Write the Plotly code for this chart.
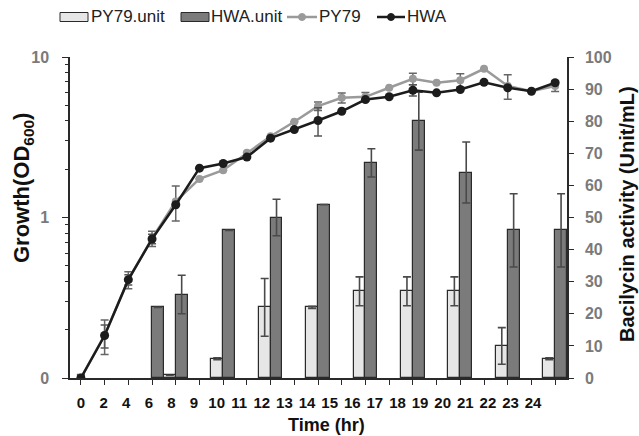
import plotly.graph_objects as go

# ---------------- data ----------------
time_labels = ["0", "2", "4", "6", "8", "9", "10", "11", "12", "13", "14",
               "15", "16", "17", "18", "19", "20", "21", "22", "23", "24"]

py79_od = [0.10, 0.185, 0.41, 0.74, 1.26, 1.74, 1.97, 2.53, 3.21, 3.95, 4.94,
           5.57, 5.65, 6.43, 7.31, 6.91, 7.17, 8.44, 6.6, 6.12, 6.6]
py79_od_err = [0.005, 0.045, 0.05, 0.08, 0.31, 0, 0, 0, 0, 0, 0.3,
               0.4, 0.35, 0, 0.6, 0, 0.7, 0, 1.15, 0, 0.5]

hwa_od = [0.10, 0.184, 0.41, 0.735, 1.2, 2.03, 2.17, 2.38, 3.12, 3.53, 4.02,
          4.59, 5.43, 5.65, 6.21, 5.98, 6.27, 6.96, 6.43, 6.12, 6.91]
hwa_od_err = [0.004, 0.03, 0.03, 0.05, 0, 0, 0, 0, 0, 0, 0.8,
              0, 0, 0, 0.5, 0, 0, 0, 0, 0, 0]

py79_unit = [None, None, None, None, 0.8, None, 6, None, 22, None, 22,
             None, 27, None, 27, None, 27, None, 10, None, 6]
py79_unit_err = [0, 0, 0, 0, 0, 0, 0.3, 0, 9, 0, 0.3,
                 0, 4.5, 0, 4.5, 0, 4.5, 0, 5.7, 0, 0.3]

hwa_unit = [None, None, None, 22, 26, None, 46, None, 50, None, 54,
            None, 67, None, 80, None, 64, None, 46, None, 46]
hwa_unit_err = [0, 0, 0, 0, 6, 0, 0, 0, 5.7, 0, 0,
                0, 4.4, 0, 9, 0, 9.5, 0, 11.4, 0, 11.4]

od_major = [0.1, 1, 10]
od_major_text = ["0", "1", "10"]
od_minor = [0.2, 0.3, 0.4, 0.5, 0.6, 0.7, 0.8, 0.9, 2, 3, 4, 5, 6, 7, 8, 9]

idx = list(range(len(time_labels)))

# ---------------- style ----------------
FONT = "Arial, Liberation Sans, sans-serif"
AX = "#2a2a2a"
GRAY_TXT = "#7a7a7a"
LIGHT = "#e6e6e6"
DARK = "#7b7b7b"
PY_COL = "#9a9a9a"
HWA_COL = "#1c1c1c"
ERR = "#4a4a4a"

W, H = 639, 436
L, R, T, B = 70, 72, 57, 58
PW, PH = W - L - R, H - T - B


def px(xp):
    return (xp - L) / PW


def py(yp):
    return (H - B - yp) / PH


fig = go.Figure()

fig.add_trace(go.Bar(
    x=idx, y=py79_unit, name="PY79.unit", xaxis="x", yaxis="y",
    marker=dict(color=LIGHT, line=dict(color=AX, width=1.2)),
    error_y=dict(type="data", array=py79_unit_err, color=ERR, thickness=1.6, width=4),
    showlegend=False))
fig.add_trace(go.Bar(
    x=idx, y=hwa_unit, name="HWA.unit", xaxis="x", yaxis="y",
    marker=dict(color=DARK, line=dict(color=AX, width=1.2)),
    error_y=dict(type="data", array=hwa_unit_err, color=ERR, thickness=1.6, width=4),
    showlegend=False))
fig.add_trace(go.Scatter(
    x=idx, y=py79_od, name="PY79", xaxis="x", yaxis="y2", mode="lines+markers",
    line=dict(color=PY_COL, width=2.5), marker=dict(color=PY_COL, size=8),
    error_y=dict(type="data", array=py79_od_err, color="#666", thickness=1.5, width=4),
    showlegend=False))
fig.add_trace(go.Scatter(
    x=idx, y=hwa_od, name="HWA", xaxis="x", yaxis="y2", mode="lines+markers",
    line=dict(color=HWA_COL, width=2.5), marker=dict(color=HWA_COL, size=9),
    error_y=dict(type="data", array=hwa_od_err, color="#555", thickness=1.5, width=4),
    showlegend=False))
# carrier traces for the label-only axes
fig.add_trace(go.Scatter(x=idx, y=[None] * len(idx), xaxis="x2", yaxis="y",
                         mode="lines", showlegend=False, hoverinfo="skip"))
fig.add_trace(go.Scatter(x=idx, y=[None] * len(idx), xaxis="x", yaxis="y3",
                         mode="lines", showlegend=False, hoverinfo="skip"))

fig.update_layout(
    width=W, height=H,
    margin=dict(l=L, r=R, t=T, b=B),
    paper_bgcolor="white", plot_bgcolor="white",
    barmode="group", bargap=0, bargroupgap=0,
    font=dict(family=FONT, color="#111"),
    xaxis=dict(range=[-0.46, 20.5], tickvals=idx, showticklabels=False,
               ticks="outside", ticklen=5, tickwidth=1.3, tickcolor=AX,
               showline=True, linecolor=AX, linewidth=1.5,
               showgrid=False, zeroline=False),
    xaxis2=dict(overlaying="x", anchor="y", side="bottom", range=[-0.487, 21.5],
                tickmode="array", tickvals=idx, ticktext=time_labels, ticks="",
                showline=False, showgrid=False, zeroline=False, ticklabelstandoff=14,
                tickfont=dict(family=FONT, size=15, color="#111", weight="bold")),
    yaxis=dict(side="right", range=[0, 100], tick0=0, dtick=10, anchor="x",
               ticks="outside", ticklen=5, tickwidth=1.3, tickcolor=AX,
               showline=True, linecolor=AX, linewidth=1.5,
               showgrid=False, zeroline=False, ticklabelstandoff=8,
               tickfont=dict(family=FONT, size=16, color=GRAY_TXT, weight="bold")),
    # left log axis with the major ticks and labels
    yaxis2=dict(overlaying="y", side="left", type="log", range=[-1, 1], anchor="x",
                tickmode="array", tickvals=od_major, ticktext=od_major_text,
                ticks="outside", ticklen=6, tickwidth=1.3, tickcolor=AX,
                showline=True, linecolor=AX, linewidth=1.5,
                showgrid=False, zeroline=False, ticklabelstandoff=10,
                tickfont=dict(family=FONT, size=16, color=GRAY_TXT, weight="bold")),
    # twin log axis carrying only the minor tick marks
    yaxis3=dict(overlaying="y", side="left", type="log", range=[-1, 1], anchor="x",
                tickmode="array", tickvals=od_minor, showticklabels=False,
                ticks="outside", ticklen=4, tickwidth=1.2, tickcolor=AX,
                showline=False, showgrid=False, zeroline=False),
)

# axis titles
fig.add_annotation(text="Growth(OD<sub>600</sub>)", xref="paper", yref="paper",
                   x=px(23), y=py(188), xanchor="center", yanchor="middle",
                   textangle=-90, showarrow=False,
                   font=dict(family=FONT, size=22, color="#111", weight="bold"))
fig.add_annotation(text="Bacilycin activity (Unit/mL)", xref="paper", yref="paper",
                   x=px(627), y=py(214), xanchor="center", yanchor="middle",
                   textangle=-90, showarrow=False,
                   font=dict(family=FONT, size=20, color="#111", weight="bold"))
fig.add_annotation(text="Time (hr)", xref="paper", yref="paper",
                   x=px(326), y=py(425), xanchor="center", yanchor="middle",
                   showarrow=False,
                   font=dict(family=FONT, size=18, color="#111", weight="bold"))

# legend (drawn manually to match the wide flat swatches)
LY = 17
leg_font = dict(family=FONT, size=17, color="#222")
fig.add_shape(type="rect", xref="paper", yref="paper", x0=px(60), x1=px(88),
              y0=py(LY + 4.5), y1=py(LY - 4.5), fillcolor=LIGHT,
              line=dict(color=AX, width=1))
fig.add_annotation(text="PY79.unit", xref="paper", yref="paper", x=px(89), y=py(LY),
                   xanchor="left", yanchor="middle", showarrow=False, font=leg_font)
fig.add_shape(type="rect", xref="paper", yref="paper", x0=px(181), x1=px(209),
              y0=py(LY + 4.5), y1=py(LY - 4.5), fillcolor=DARK,
              line=dict(color=AX, width=1))
fig.add_annotation(text="HWA.unit", xref="paper", yref="paper", x=px(209), y=py(LY),
                   xanchor="left", yanchor="middle", showarrow=False, font=leg_font)
for x0, x1, col, label, tx in [(287, 317, PY_COL, "PY79", 317),
                               (377, 405, HWA_COL, "HWA", 405)]:
    fig.add_shape(type="line", xref="paper", yref="paper", x0=px(x0), x1=px(x1),
                  y0=py(LY), y1=py(LY), line=dict(color=col, width=2.5))
    cx = (x0 + x1) / 2
    fig.add_shape(type="circle", xref="paper", yref="paper", x0=px(cx - 3.5),
                  x1=px(cx + 3.5), y0=py(LY + 3.5), y1=py(LY - 3.5),
                  fillcolor=col, line=dict(color=col, width=1))
    fig.add_annotation(text=label, xref="paper", yref="paper", x=px(tx), y=py(LY),
                       xanchor="left", yanchor="middle", showarrow=False, font=leg_font)

fig.write_html("out.html")
